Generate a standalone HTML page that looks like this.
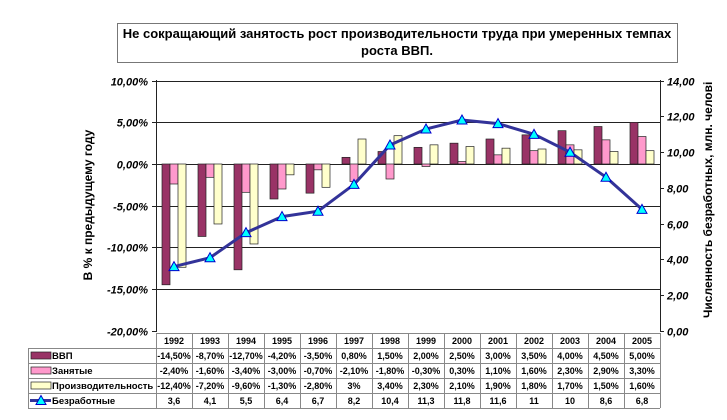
<!DOCTYPE html>
<html><head><meta charset="utf-8">
<style>
html,body{margin:0;padding:0;background:#fff;}
svg{display:block;font-family:"Liberation Sans",sans-serif;}
</style></head>
<body>
<svg id="c" width="727" height="420" xmlns="http://www.w3.org/2000/svg">
<rect x="0" y="0" width="727" height="420" fill="#fff"/>
<rect x="117.5" y="23.5" width="560" height="39" fill="#fff" stroke="#777" stroke-width="1"/>
<text x="397" y="38" text-anchor="middle" font-size="13" font-weight="bold">Не сокращающий занятость рост производительности труда при умеренных темпах</text>
<text x="397" y="55" text-anchor="middle" font-size="13" font-weight="bold">роста ВВП.</text>
<text transform="translate(92,205) rotate(-90)" text-anchor="middle" font-size="12" font-weight="bold">В % к предыдущему году</text>
<text transform="translate(712,318) rotate(-90)" text-anchor="start" font-size="12" font-weight="bold">Численность безработных, млн. челові</text>
<g id="g"></g>
</svg>
<script>
var g=document.getElementById('g');var s='';
var L=156,R=660,Y0=164,PP=8.33,RY0=331,RU=17.88;
var gdp=[-14.5,-8.7,-12.7,-4.2,-3.5,0.8,1.5,2,2.5,3,3.5,4,4.5,5];
var emp=[-2.4,-1.6,-3.4,-3,-0.7,-2.1,-1.8,-0.3,0.3,1.1,1.6,2.3,2.9,3.3];
var pr=[-12.4,-7.2,-9.6,-1.3,-2.8,3,3.4,2.3,2.1,1.9,1.8,1.7,1.5,1.6];
var un=[3.6,4.1,5.5,6.4,6.7,8.2,10.4,11.3,11.8,11.6,11,10,8.6,6.8];
var yrs=[];for(var i=0;i<14;i++)yrs.push(1992+i);
var lbl=['10,00%','5,00%','0,00%','-5,00%','-10,00%','-15,00%','-20,00%'];
for(var k=0;k<7;k++){var v=10-5*k;var y=Math.round(Y0-v*PP)+0.5;
 if(k<6) s+='<line x1="'+L+'" y1="'+y+'" x2="'+R+'" y2="'+y+'" stroke="#222" stroke-width="1"/>';
 s+='<line x1="'+(L-4)+'" y1="'+y+'" x2="'+L+'" y2="'+y+'" stroke="#222"/>';
 s+='<text x="148" y="'+(y+4)+'" text-anchor="end" font-size="11" font-weight="bold" font-style="italic">'+lbl[k]+'</text>';}
for(var k=0;k<8;k++){var v=2*k;var y=Math.round(RY0-v*RU)+0.5;
 s+='<line x1="'+R+'" y1="'+y+'" x2="'+(R+4)+'" y2="'+y+'" stroke="#222"/>';
 s+='<text x="667" y="'+(y+4)+'" font-size="11" font-weight="bold" font-style="italic">'+v+',00</text>';}
s+='<line x1="'+(L+.5)+'" y1="80" x2="'+(L+.5)+'" y2="332" stroke="#222"/>';
s+='<line x1="'+(R+.5)+'" y1="80" x2="'+(R+.5)+'" y2="332" stroke="#222"/>';
function bar(x,v,c){var y=Y0-v*PP;var t=Math.min(y,Y0),h=Math.abs(y-Y0);
 s+='<rect x="'+x+'" y="'+t+'" width="8" height="'+h+'" fill="'+c+'" stroke="#222" stroke-width="0.7"/>';}
for(var i=0;i<14;i++){var x=L+36*i+6;bar(x,gdp[i],'#993366');bar(x+8,emp[i],'#ff99cc');bar(x+16,pr[i],'#ffffcc');}
var pts=[];for(var i=0;i<14;i++)pts.push((L+36*i+18)+','+(RY0-un[i]*RU).toFixed(1));
s+='<polyline points="'+pts.join(' ')+'" fill="none" stroke="#333399" stroke-width="3"/>';
function tri(x,y){return '<polygon points="'+x+','+(y-5)+' '+(x-5)+','+(y+4)+' '+(x+5)+','+(y+4)+'" fill="#00ffff" stroke="#0000cc" stroke-width="1"/>';}
for(var i=0;i<14;i++)s+=tri(L+36*i+18,RY0-un[i]*RU);
var rows=[333,348,363,378,393,408];
for(var r=0;r<6;r++){var x1=(r==0?L:28);s+='<line x1="'+x1+'" y1="'+(rows[r]+.5)+'" x2="'+R+'" y2="'+(rows[r]+.5)+'" stroke="#888"/>';}
s+='<line x1="28.5" y1="348" x2="28.5" y2="408" stroke="#888"/>';
for(var i=0;i<=14;i++){var x=L+36*i+.5;s+='<line x1="'+x+'" y1="333" x2="'+x+'" y2="408" stroke="#888"/>';}
function pc(v){return v.toFixed(2).replace('.',',')+'%';}
for(var i=0;i<14;i++){var cx=L+36*i+18;
 s+='<text x="'+cx+'" y="344" text-anchor="middle" font-size="9" font-weight="bold">'+yrs[i]+'</text>';
 s+='<text x="'+cx+'" y="359" text-anchor="middle" font-size="9" font-weight="bold">'+pc(gdp[i])+'</text>';
 s+='<text x="'+cx+'" y="374" text-anchor="middle" font-size="9" font-weight="bold">'+pc(emp[i])+'</text>';
 s+='<text x="'+cx+'" y="389" text-anchor="middle" font-size="9" font-weight="bold">'+(i==5?'3%':pc(pr[i]))+'</text>';
 s+='<text x="'+cx+'" y="404" text-anchor="middle" font-size="9" font-weight="bold">'+String(un[i]).replace('.',',')+'</text>';}
var nm=['ВВП','Занятые','Производительность'],cl=['#993366','#ff99cc','#ffffcc'];
for(var r=0;r<3;r++){var y=rows[r+1];
 s+='<rect x="31" y="'+(y+4)+'" width="20" height="7" fill="'+cl[r]+'" stroke="#222" stroke-width="0.7"/>';
 s+='<text x="52" y="'+(y+11)+'" font-size="9.5" font-weight="bold">'+nm[r]+'</text>';}
s+='<line x1="30" y1="400.5" x2="51" y2="400.5" stroke="#333399" stroke-width="3"/>'+tri(41,400.5);
s+='<text x="52" y="404" font-size="9.5" font-weight="bold">Безработные</text>';
g.innerHTML=s;
</script>
</body></html>
